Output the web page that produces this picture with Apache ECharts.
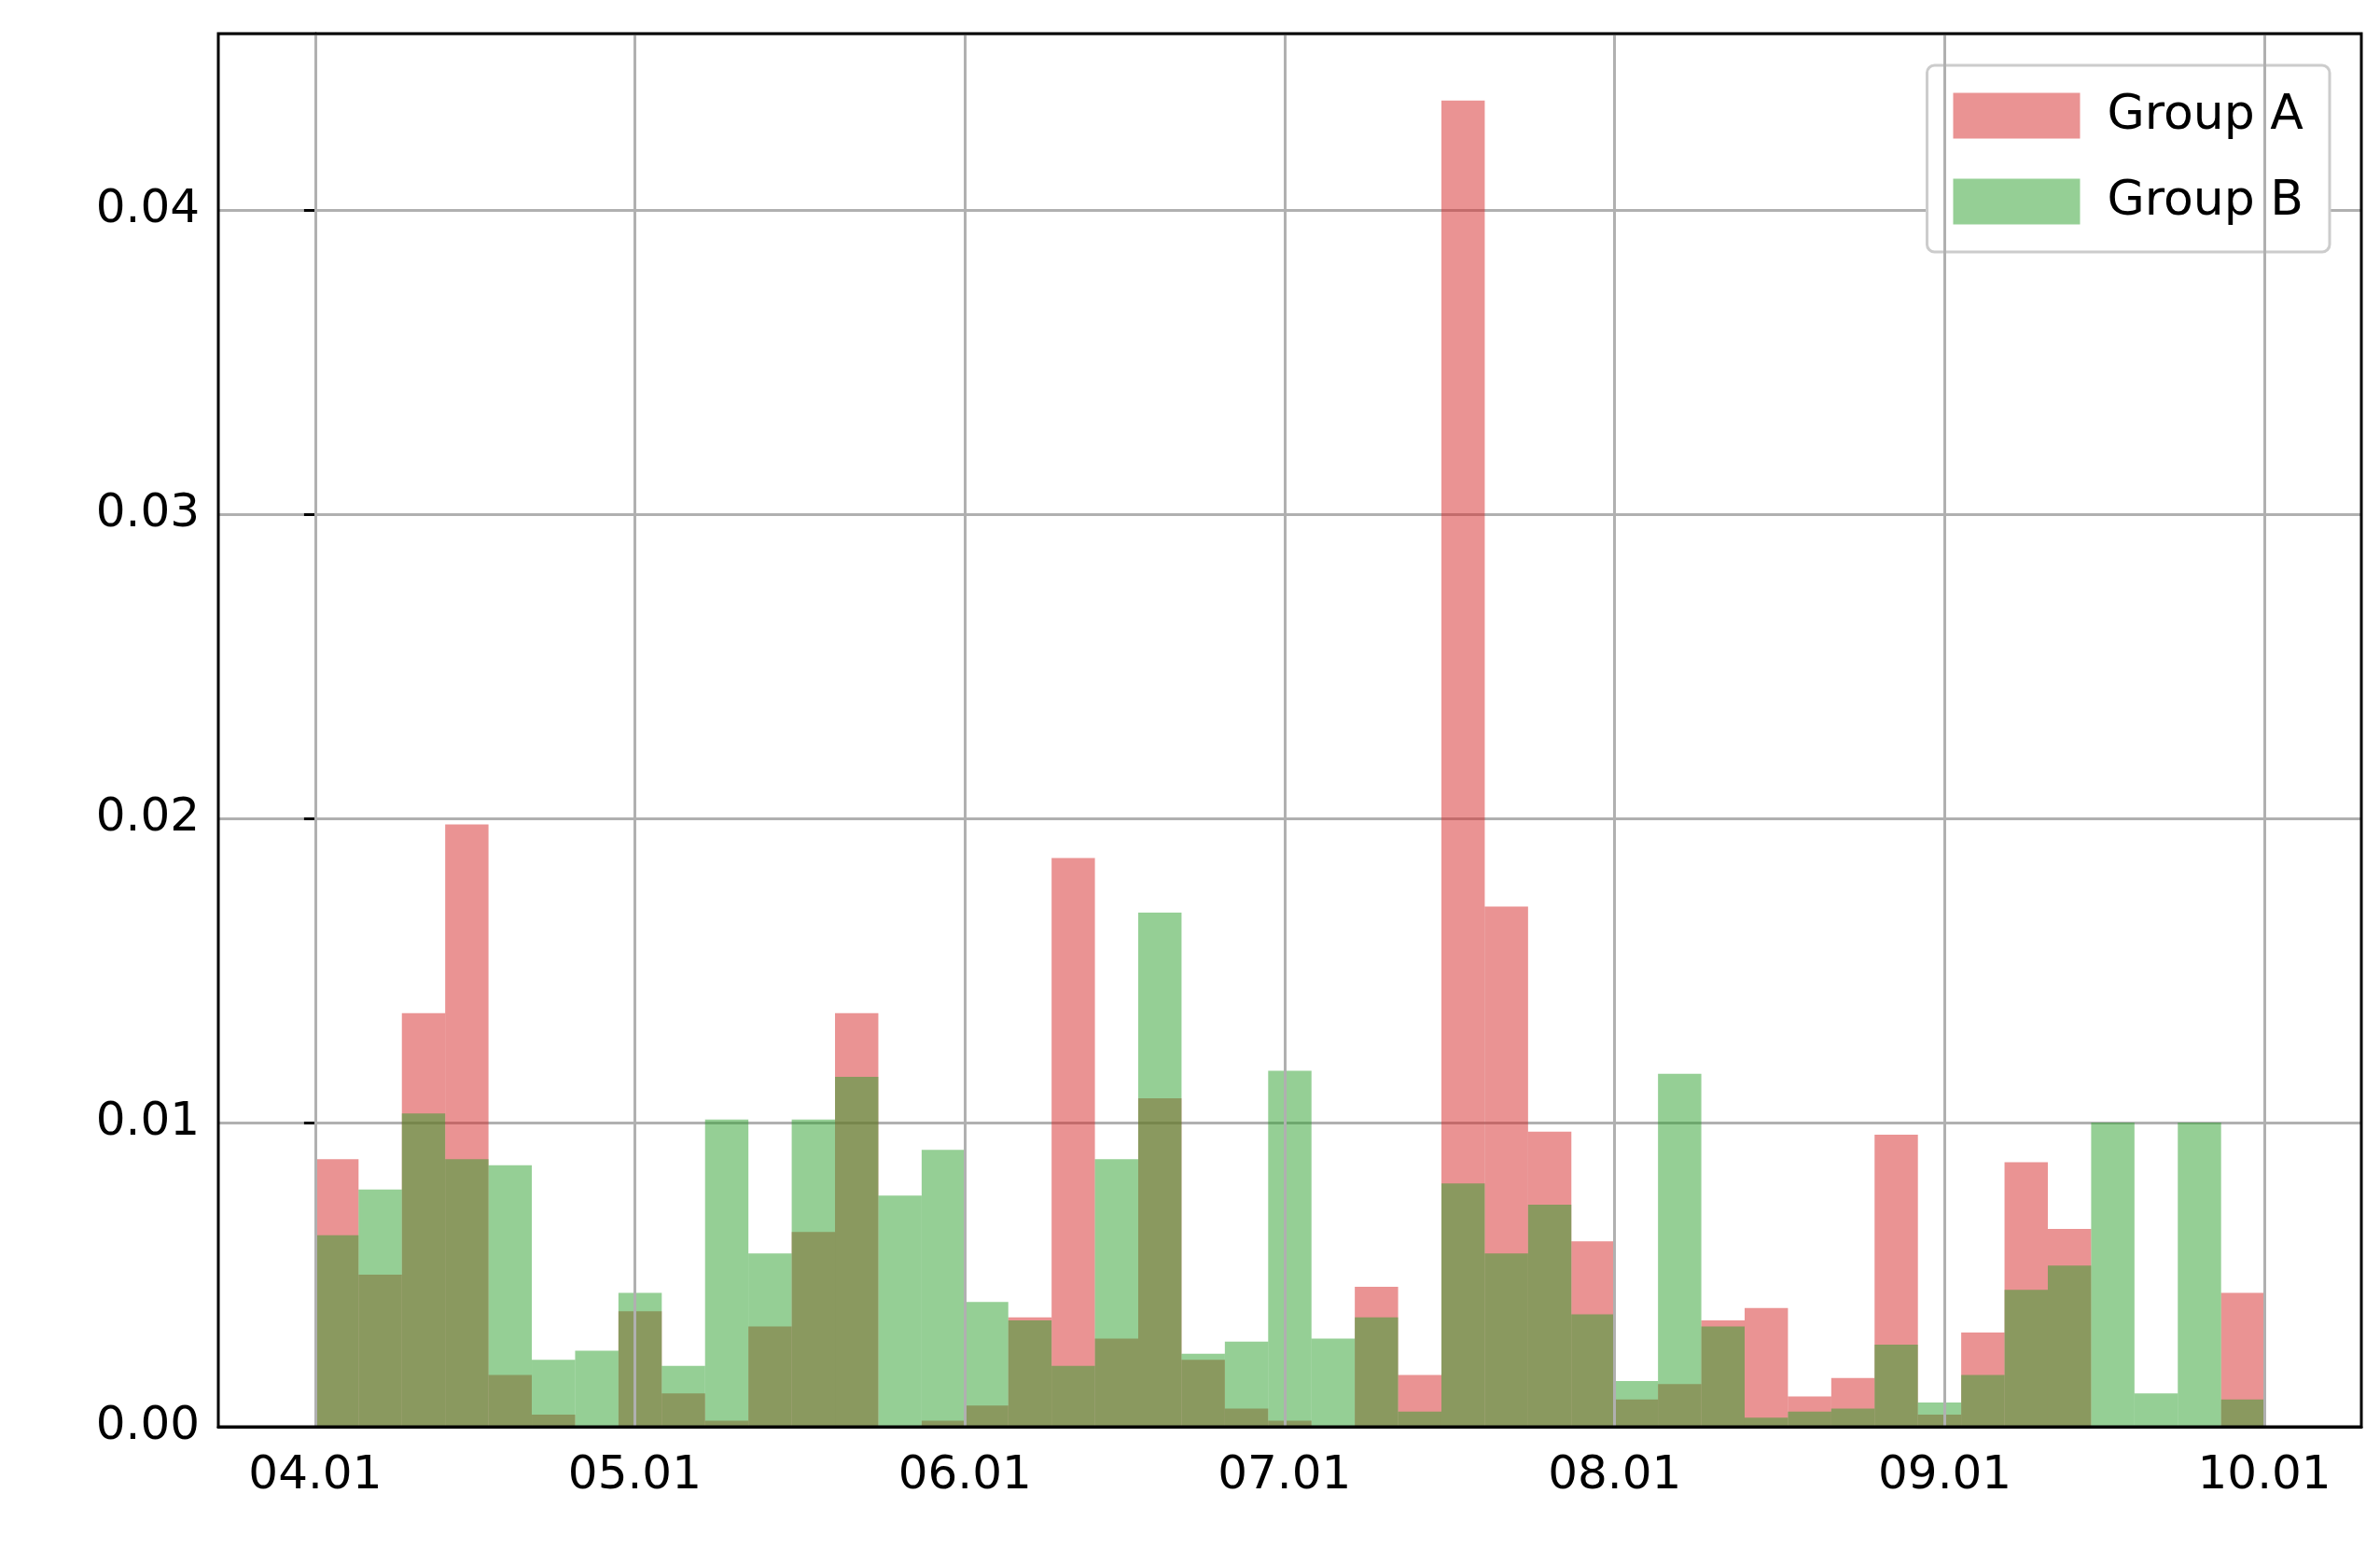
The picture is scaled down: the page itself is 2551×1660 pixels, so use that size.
<!DOCTYPE html>
<html>
<head>
<meta charset="utf-8">
<script src="https://cdn.jsdelivr.net/npm/echarts@6/dist/echarts.min.js"></script>
<style>html,body{margin:0;padding:0;background:#fff}#chart{width:2551px;height:1660px}</style>
</head>
<body>
<div id="chart"></div>
<script>
// days since 04.01, 45 equal bins over 183 days
const tickDays = [0, 30, 61, 91, 122, 153, 183]
const tickLabels = ['04.01', '05.01', '06.01', '07.01', '08.01', '09.01', '10.01']
const groupA = [0.0088, 0.0050, 0.0136, 0.0198, 0.0017, 0.0004, 0.0000, 0.0038, 0.0011, 0.0002,
    0.0033, 0.0064, 0.0136, 0.0000, 0.0002, 0.0007, 0.0036, 0.0187, 0.0029, 0.0108,
    0.0022, 0.0006, 0.0002, 0.0000, 0.0046, 0.0017, 0.0436, 0.0171, 0.0097, 0.0061,
    0.0009, 0.0014, 0.0035, 0.0039, 0.0010, 0.0016, 0.0096, 0.0004, 0.0031, 0.0087,
    0.0065, 0.0000, 0.0000, 0.0000, 0.0044]
const groupB = [0.0063, 0.0078, 0.0103, 0.0088, 0.0086, 0.0022, 0.0025, 0.0044, 0.0020, 0.0101,
    0.0057, 0.0101, 0.0115, 0.0076, 0.0091, 0.0041, 0.0035, 0.0020, 0.0088, 0.0169,
    0.0024, 0.0028, 0.0117, 0.0029, 0.0036, 0.0005, 0.0080, 0.0057, 0.0073, 0.0037,
    0.0015, 0.0116, 0.0033, 0.0003, 0.0005, 0.0006, 0.0027, 0.0008, 0.0017, 0.0045,
    0.0053, 0.0100, 0.0011, 0.0100, 0.0009]

const binW = 183 / groupA.length
const toBins = vals => vals.map((v, i) => [i * binW, (i + 1) * binW, v])

function renderBar(params, api) {
    const p0 = api.coord([api.value(0), api.value(2)])
    const p1 = api.coord([api.value(1), 0])
    return {
        type: 'rect',
        shape: { x: p0[0], y: p0[1], width: p1[0] - p0[0], height: p1[1] - p0[1] },
        style: { fill: api.visual('color') }
    }
}

const font = 'DejaVu Sans'
const chart = echarts.init(document.getElementById('chart'))
chart.setOption({
    animation: false,
    textStyle: { fontFamily: font },
    grid: { left: 234, right: 20, top: 36, bottom: 131, show: true, borderColor: '#000', borderWidth: 3, z: 10 },
    legend: {
        right: 54, top: 70, orient: 'vertical', icon: 'rect',
        itemWidth: 136, itemHeight: 49, itemGap: 40, padding: [28, 28, 28, 28],
        backgroundColor: '#fff', borderColor: '#ccc', borderWidth: 3, borderRadius: 8,
        textStyle: { fontSize: 52, color: '#000', fontFamily: font, padding: [0, 0, 0, 24] },
        data: ['Group A', 'Group B']
    },
    xAxis: {
        type: 'value', min: -9.1, max: 192.1,
        axisLine: { lineStyle: { color: '#000', width: 3 } },
        axisTick: { show: false }, axisLabel: { show: false }, splitLine: { show: false }
    },
    yAxis: {
        type: 'value', min: 0, max: 0.0458, interval: 0.01,
        axisLine: { show: true, lineStyle: { color: '#000', width: 3 } },
        axisTick: { show: true, length: 12, lineStyle: { color: '#000', width: 3 } },
        axisLabel: { fontSize: 50, color: '#000', margin: 20, showMaxLabel: false, formatter: v => v.toFixed(2) },
        splitLine: { lineStyle: { color: '#b0b0b0', width: 3 } }
    },
    series: [
        {
            name: 'grid', type: 'line', data: [], silent: true, z: 1,
            markLine: {
                symbol: 'none', silent: true, animation: false,
                lineStyle: { color: '#b0b0b0', width: 3, type: 'solid' },
                label: { position: 'start', fontSize: 50, color: '#000', distance: 28, fontFamily: font,
                    formatter: p => tickLabels[tickDays.indexOf(p.value)] },
                data: tickDays.map(d => ({ xAxis: d }))
            }
        },
        { name: 'Group A', type: 'custom', renderItem: renderBar, data: toBins(groupA),
          itemStyle: { color: 'rgba(214,39,40,0.5)' }, z: 2 },
        { name: 'Group B', type: 'custom', renderItem: renderBar, data: toBins(groupB),
          itemStyle: { color: 'rgba(44,160,44,0.5)' }, z: 3 }
    ]
})
</script>
</body>
</html>
